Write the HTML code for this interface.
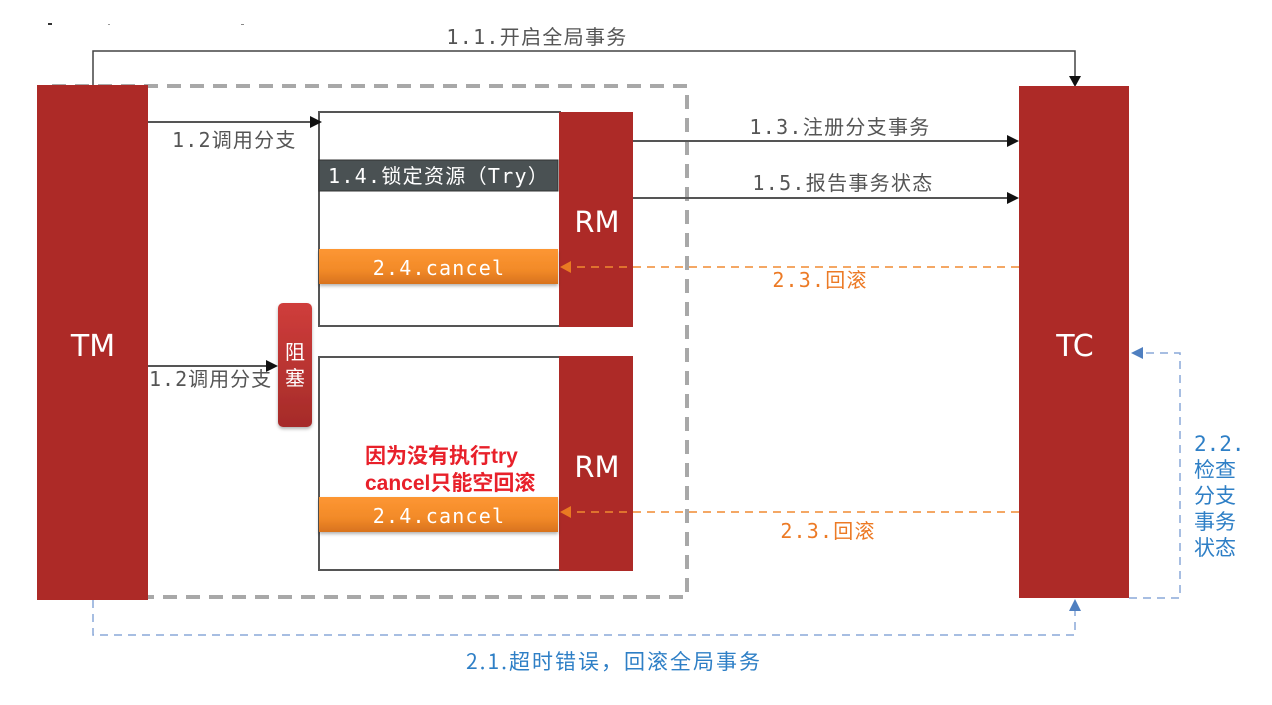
<!DOCTYPE html>
<html><head><meta charset="utf-8"><style>
html,body{margin:0;padding:0;background:#fff;}
svg{display:block;}
.mono{font-family:"DejaVu Sans Mono","Liberation Mono","Noto Sans CJK SC",monospace;}
</style></head><body>
<svg width="1272" height="705" viewBox="0 0 1272 705" xmlns="http://www.w3.org/2000/svg">
<defs>
<linearGradient id="og" x1="0" y1="0" x2="0" y2="1">
<stop offset="0" stop-color="#fd9633"/><stop offset="0.6" stop-color="#f28a28"/><stop offset="1" stop-color="#d8721e"/>
</linearGradient>
<linearGradient id="rg" x1="0" y1="0" x2="0" y2="1">
<stop offset="0" stop-color="#cf3d3b"/><stop offset="1" stop-color="#a52b29"/>
</linearGradient>
<filter id="sh" x="-20%" y="-20%" width="140%" height="150%">
<feDropShadow dx="0" dy="2" stdDeviation="1.5" flood-color="#000" flood-opacity="0.3"/>
</filter>
</defs>

<!-- faint marks -->
<rect x="48" y="23" width="4" height="2" fill="#333"/>
<rect x="108" y="24" width="2" height="1" fill="#999"/>
<rect x="241" y="24" width="3" height="1" fill="#888"/>

<!-- gray dashed container -->
<rect x="52" y="86" width="635" height="511" fill="none" stroke="#a8a8a8" stroke-width="4" stroke-dasharray="14 9"/>

<!-- 1.1 line -->
<polyline points="93,86 93,51 1075,51 1075,78" fill="none" stroke="#444" stroke-width="1.5"/>
<polygon points="1069,76 1081,76 1075,87" fill="#111"/>
<text x="537" y="44" text-anchor="middle" class="mono" font-size="20" letter-spacing="1.3" fill="#555">1.1.开启全局事务</text>

<!-- TM -->
<rect x="37" y="85" width="111" height="515" fill="#ad2a27"/>
<text x="93" y="356" text-anchor="middle" font-family="DejaVu Sans,Liberation Sans,sans-serif" font-size="30" fill="#fff">TM</text>

<!-- TC -->
<rect x="1019" y="86" width="110" height="512" fill="#ad2a27"/>
<text x="1075" y="356" text-anchor="middle" font-family="DejaVu Sans,Liberation Sans,sans-serif" font-size="30" fill="#fff">TC</text>

<!-- Box 1 -->
<rect x="319" y="112" width="241" height="214" fill="#fff" stroke="#555" stroke-width="2"/>
<rect x="559" y="112" width="74" height="215" fill="#ad2a27"/>
<text x="597" y="232" text-anchor="middle" font-family="DejaVu Sans,Liberation Sans,sans-serif" font-size="29" fill="#fff">RM</text>
<rect x="319" y="160" width="239" height="31" fill="#4a5153" stroke="#333" stroke-width="1"/>
<text x="328" y="183" class="mono" font-size="20" letter-spacing="1.3" fill="#fff">1.4.锁定资源（Try）</text>
<rect x="319" y="249" width="239" height="35" fill="url(#og)" filter="url(#sh)"/>
<text x="439" y="275" text-anchor="middle" class="mono" font-size="20" letter-spacing="1.2" fill="#fff">2.4.cancel</text>

<!-- Box 2 -->
<rect x="319" y="357" width="241" height="213" fill="#fff" stroke="#555" stroke-width="2"/>
<rect x="559" y="356" width="74" height="215" fill="#ad2a27"/>
<text x="597" y="477" text-anchor="middle" font-family="DejaVu Sans,Liberation Sans,sans-serif" font-size="29" fill="#fff">RM</text>
<text x="365" y="463" font-family="Liberation Sans,Noto Sans CJK SC,sans-serif" font-weight="bold" font-size="21" fill="#e8202a">因为没有执行try</text>
<text x="365" y="490" font-family="Liberation Sans,Noto Sans CJK SC,sans-serif" font-weight="bold" font-size="21" fill="#e8202a">cancel只能空回滚</text>
<rect x="319" y="497" width="239" height="35" fill="url(#og)" filter="url(#sh)"/>
<text x="439" y="523" text-anchor="middle" class="mono" font-size="20" letter-spacing="1.2" fill="#fff">2.4.cancel</text>

<!-- 阻塞 -->
<rect x="278" y="303" width="34" height="124" rx="5" fill="url(#rg)" filter="url(#sh)"/>
<text x="295" y="359" text-anchor="middle" font-family="Noto Sans CJK SC,sans-serif" font-size="20" fill="#fff">阻</text>
<text x="295" y="385" text-anchor="middle" font-family="Noto Sans CJK SC,sans-serif" font-size="20" fill="#fff">塞</text>

<!-- 1.2 arrows -->
<line x1="148" y1="122" x2="312" y2="122" stroke="#555" stroke-width="2"/>
<polygon points="310,116 322,122 310,128" fill="#111"/>
<text x="172" y="147" class="mono" font-size="20" letter-spacing="1.2" fill="#555">1.2调用分支</text>
<line x1="148" y1="366" x2="268" y2="366" stroke="#555" stroke-width="2"/>
<polygon points="266,360 278,366 266,372" fill="#111"/>
<text x="149" y="386" class="mono" font-size="20" letter-spacing="1" fill="#555">1.2调用分支</text>

<!-- 1.3 / 1.5 -->
<line x1="633" y1="141" x2="1009" y2="141" stroke="#555" stroke-width="2"/>
<polygon points="1007,135 1019,141 1007,147" fill="#111"/>
<text x="840" y="134" text-anchor="middle" class="mono" font-size="20" letter-spacing="1.3" fill="#555">1.3.注册分支事务</text>
<line x1="633" y1="198" x2="1009" y2="198" stroke="#555" stroke-width="2"/>
<polygon points="1007,192 1019,198 1007,204" fill="#111"/>
<text x="843" y="190" text-anchor="middle" class="mono" font-size="20" letter-spacing="1.3" fill="#555">1.5.报告事务状态</text>

<!-- 2.3 orange dashed -->
<line x1="1019" y1="267" x2="570" y2="267" stroke="#f08a30" stroke-width="1.5" stroke-dasharray="8 6"/>
<polygon points="560,267 571,261 571,273" fill="#e97a22"/>
<text x="820" y="287" text-anchor="middle" class="mono" font-size="20" letter-spacing="1.2" fill="#ec7a25">2.3.回滚</text>
<line x1="1019" y1="512" x2="570" y2="512" stroke="#f08a30" stroke-width="1.5" stroke-dasharray="8 6"/>
<polygon points="560,512 571,506 571,518" fill="#e97a22"/>
<text x="828" y="538" text-anchor="middle" class="mono" font-size="20" letter-spacing="1.2" fill="#ec7a25">2.3.回滚</text>

<!-- 2.2 blue dashed -->
<polyline points="1129,598 1180,598 1180,353 1142,353" fill="none" stroke="#8aa8d8" stroke-width="1.5" stroke-dasharray="8 6"/>
<polygon points="1131,353 1143,347 1143,359" fill="#4f7fc0"/>
<g class="mono" font-size="21" fill="#2e7fc6">
<text x="1194" y="451">2.2.</text>
<text x="1194" y="477">检查</text>
<text x="1194" y="503">分支</text>
<text x="1194" y="529">事务</text>
<text x="1194" y="555">状态</text>
</g>

<!-- 2.1 blue dashed -->
<polyline points="93,600 93,635 1075,635 1075,611" fill="none" stroke="#8aa8d8" stroke-width="1.5" stroke-dasharray="8 6"/>
<polygon points="1075,599 1069,611 1081,611" fill="#4f7fc0"/>
<text x="614" y="669" text-anchor="middle" font-family="Noto Sans CJK SC,sans-serif" font-size="21" letter-spacing="2" fill="#2e7fc6">2.1.超时错误，回滚全局事务</text>
</svg>
</body></html>
